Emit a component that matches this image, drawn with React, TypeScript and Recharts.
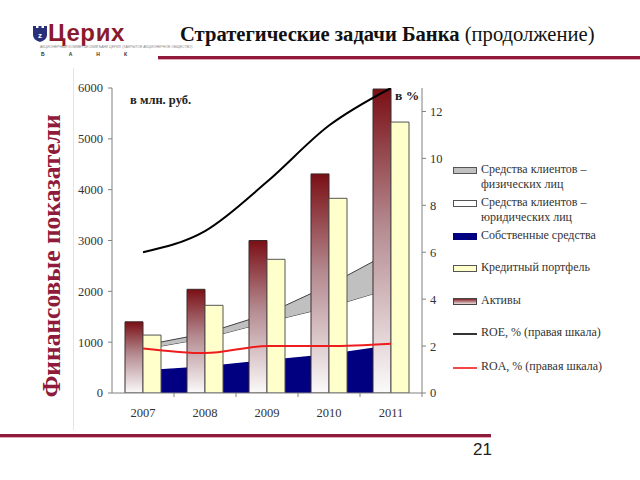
import React from 'react';
import { ComposedChart, Bar, Area, Line, XAxis, YAxis, Legend } from 'recharts';

const years = ['2007', '2008', '2009', '2010', '2011'];
const assets = [1400, 2040, 3000, 4310, 5980];
const loans = [1140, 1725, 2630, 3830, 5330];
const ownFunds = [450, 525, 650, 765, 945];
const legalClients = [410, 550, 745, 925, 1110];
const individualClients = [75, 95, 160, 430, 720];
const roe = [6.0, 6.9, 9.0, 11.4, 13.0];
const roa = [1.9, 1.7, 2.0, 2.0, 2.1];
const leftTicks = [0, 1000, 2000, 3000, 4000, 5000, 6000];
const rightTicks = [0, 2, 4, 6, 8, 10, 12];

const data = years.map((y, i) => ({
  year: y,
  assets: assets[i],
  loans: loans[i],
  own: ownFunds[i],
  legal: legalClients[i],
  indiv: individualClients[i],
  roe: roe[i],
  roa: roa[i],
}));

const SERIF = '"Liberation Serif", "Times New Roman", serif';
const CRIMSON = '#8e1a3c';

const XTick = (props: any) => {
  const { x, y, payload } = props;
  const half = payload && typeof payload.offset === 'number' && payload.offset > 0 ? payload.offset : 31;
  return (
    <g>
      <line x1={x + half} y1={y} x2={x + half} y2={y + 4} stroke="#808080" />
      <text x={x} y={y + 20} textAnchor="middle" dominantBaseline="central" fontFamily={SERIF} fontSize={12.5} fill="#333">
        {payload.value}
      </text>
    </g>
  );
};

const legendItems = [
  { kind: 'box', fill: '#c0c0c0', stroke: '#555', lines: ['Средства клиентов –', 'физических лиц'] },
  { kind: 'box', fill: '#ffffff', stroke: '#555', lines: ['Средства клиентов –', 'юридических лиц'] },
  { kind: 'box', fill: '#000080', stroke: '#000080', lines: ['Собственные средства'] },
  { kind: 'box', fill: '#ffffcc', stroke: '#555', lines: ['Кредитный портфель'] },
  { kind: 'grad', fill: 'url(#legendGrad)', stroke: '#444', lines: ['Активы'] },
  { kind: 'line', fill: '#000000', stroke: '#000000', lines: ['ROE, % (правая шкала)'] },
  { kind: 'line', fill: '#ee1c1c', stroke: '#ee1c1c', lines: ['ROA, % (правая шкала)'] },
];
const legendTops = [0, 33, 66, 98, 131, 163, 197];

const renderLegend = () => (
  <div style={{ position: 'relative', width: 180, height: 230, fontFamily: SERIF, fontSize: 12, color: '#333' }}>
    {legendItems.map((it, i) => (
      <div key={i} style={{ position: 'absolute', left: 0, top: legendTops[i], width: 180 }}>
        <svg width={26} height={10} style={{ position: 'absolute', left: 5, top: 4 }}>
          <defs>
            <linearGradient id="legendGrad" x1="0" y1="0" x2="0" y2="1">
              <stop offset="0%" stopColor="#7a1016" />
              <stop offset="100%" stopColor="#f4eeee" />
            </linearGradient>
          </defs>
          {it.kind === 'line' ? (
            <line x1={0} y1={5} x2={24} y2={5} stroke={it.stroke} strokeWidth={1.6} />
          ) : (
            <rect x={0.5} y={1.5} width={23} height={6} fill={it.fill} stroke={it.stroke} strokeWidth={1} />
          )}
        </svg>
        <div style={{ position: 'absolute', left: 33, top: 0, lineHeight: '14.5px', whiteSpace: 'nowrap' }}>
          {it.lines.map((l, j) => (
            <div key={j}>{l}</div>
          ))}
        </div>
      </div>
    ))}
  </div>
);

export default function App() {
  return (
    <div style={{ position: 'absolute', left: 0, top: 0, width: 640, height: 480, background: '#fff', overflow: 'hidden' }}>
      {/* Logo */}
      <div style={{ position: 'absolute', left: 33, top: 26, width: 14, height: 16 }}>
        <svg width={14} height={16}>
          <path d="M0 0 L3 0 L3 2 L5.5 2 L5.5 0 L8.5 0 L8.5 2 L11 2 L11 0 L14 0 L14 9 Q14 14 7 16 Q0 14 0 9 Z" fill="#2a2f7a" />
          <text x={7} y={11.5} textAnchor="middle" fontSize={8} fontWeight={700} fill="#fff" fontFamily="Arial">z</text>
        </svg>
      </div>
      <div style={{ position: 'absolute', left: 48, top: 19, fontFamily: '"Liberation Sans", Arial, sans-serif', fontWeight: 700, fontSize: 24, color: '#8a1a2c', lineHeight: '28px', letterSpacing: 0.6 }}>
        Церих
      </div>
      <div style={{ position: 'absolute', left: 40, top: 45, fontFamily: '"Liberation Sans", Arial, sans-serif', fontSize: 3.5, color: '#888', whiteSpace: 'nowrap', width: 90 }}>
        АКЦИОНЕРНЫЙ КОММЕРЧЕСКИЙ БАНК ЦЕРИХ (ЗАКРЫТОЕ АКЦИОНЕРНОЕ ОБЩЕСТВО)
      </div>
      <div style={{ position: 'absolute', left: 41, top: 51, width: 86, display: 'flex', justifyContent: 'space-between', fontFamily: '"Liberation Sans", Arial, sans-serif', fontSize: 5, color: '#333', fontWeight: 700 }}>
        <span>Б</span><span>А</span><span>Н</span><span>К</span>
      </div>

      {/* Title */}
      <div style={{ position: 'absolute', left: 180, top: 21, fontFamily: SERIF, fontSize: 20.6, color: '#111', whiteSpace: 'nowrap', lineHeight: '26px' }}>
        <b>Стратегические задачи Банка</b> <span>(продолжение)</span>
      </div>
      <div style={{ position: 'absolute', left: 158, top: 56, width: 482, height: 3, background: CRIMSON, boxShadow: '0 1px 0 #e7a9b8' }} />

      {/* vertical divider */}
      <div style={{ position: 'absolute', left: 73, top: 68, width: 1, height: 362, background: '#e4e4e4' }} />

      {/* Vertical title */}
      <div style={{ position: 'absolute', left: 52, top: 256, transform: 'translate(-50%, -50%) rotate(-90deg)', fontFamily: SERIF, fontWeight: 700, fontSize: 25.5, color: CRIMSON, whiteSpace: 'nowrap' }}>
        Финансовые показатели
      </div>

      <ComposedChart
        width={640}
        height={480}
        data={data}
        margin={{ top: 88, right: 178, bottom: 57, left: 52 }}
        barCategoryGap={13}
        barGap={0}
        style={{ position: 'absolute', left: 0, top: 0 }}
      >
        <defs>
          <linearGradient id="assetsGrad" x1="0" y1="0" x2="0" y2="1">
            <stop offset="0%" stopColor="#7a0f15" />
            <stop offset="45%" stopColor="#b48a90" />
            <stop offset="100%" stopColor="#fbfafa" />
          </linearGradient>
        </defs>
        <XAxis
          dataKey="year"
          xAxisId="x"
          height={30}
          tickSize={0}
          tickMargin={0}
          tickLine={false}
          axisLine={{ stroke: '#808080' }}
          tick={<XTick />}
          interval={0}
        />
        <YAxis
          yAxisId="left"
          width={60}
          domain={[0, 6000]}
          ticks={leftTicks}
          tickSize={4}
          tickMargin={5}
          axisLine={{ stroke: '#808080' }}
          tickLine={{ stroke: '#808080' }}
          tick={{ fontFamily: SERIF, fontSize: 12.5, fill: '#333' }}
          allowDataOverflow
        />
        <YAxis
          yAxisId="right"
          orientation="right"
          width={40}
          domain={[0, 13]}
          ticks={rightTicks}
          tickSize={4}
          tickMargin={4}
          axisLine={{ stroke: '#808080' }}
          tickLine={{ stroke: '#808080' }}
          tick={{ fontFamily: SERIF, fontSize: 12.5, fill: '#333', textAnchor: 'start' }}
          allowDataOverflow
        />
        <Area
          xAxisId="x"
          yAxisId="left"
          dataKey="own"
          stackId="clients"
          type="linear"
          fill="#000080"
          fillOpacity={1}
          stroke="#000080"
          isAnimationActive={false}
        />
        <Area
          xAxisId="x"
          yAxisId="left"
          dataKey="legal"
          stackId="clients"
          type="linear"
          fill="#ffffff"
          fillOpacity={1}
          stroke="#404040"
          strokeWidth={1}
          isAnimationActive={false}
        />
        <Area
          xAxisId="x"
          yAxisId="left"
          dataKey="indiv"
          stackId="clients"
          type="linear"
          fill="#c0c0c0"
          fillOpacity={1}
          stroke="#404040"
          strokeWidth={1}
          isAnimationActive={false}
        />
        <Bar xAxisId="x" yAxisId="left" dataKey="assets" fill="url(#assetsGrad)" stroke="#3a2a2a" strokeWidth={1} isAnimationActive={false} />
        <Bar xAxisId="x" yAxisId="left" dataKey="loans" fill="#ffffcc" stroke="#555" strokeWidth={1} isAnimationActive={false} />
        <Line xAxisId="x" yAxisId="right" dataKey="roe" type="monotone" stroke="#000" strokeWidth={2} dot={false} isAnimationActive={false} />
        <Line xAxisId="x" yAxisId="right" dataKey="roa" type="monotone" stroke="#ee1c1c" strokeWidth={2} dot={false} isAnimationActive={false} />
        <Legend
          layout="horizontal"
          align="center"
          verticalAlign="middle"
          content={renderLegend}
          wrapperStyle={{ position: 'absolute', left: 448, top: 162, width: 180, height: 230 }}
        />
      </ComposedChart>

      {/* unit labels */}
      <div style={{ position: 'absolute', left: 130, top: 93, fontFamily: SERIF, fontWeight: 700, fontSize: 12.5, color: '#222', whiteSpace: 'nowrap' }}>
        в млн. руб.
      </div>
      <div style={{ position: 'absolute', left: 395, top: 88, fontFamily: SERIF, fontWeight: 700, fontSize: 13.5, color: '#222', whiteSpace: 'nowrap' }}>
        в %
      </div>

      {/* footer */}
      <div style={{ position: 'absolute', left: 0, top: 434, width: 491, height: 3, background: CRIMSON, boxShadow: '0 1px 0 #e7a9b8' }} />
      <div style={{ position: 'absolute', left: 473, top: 440, fontFamily: '"Liberation Sans", Arial, sans-serif', fontSize: 17, color: '#222' }}>
        21
      </div>
    </div>
  );
}
